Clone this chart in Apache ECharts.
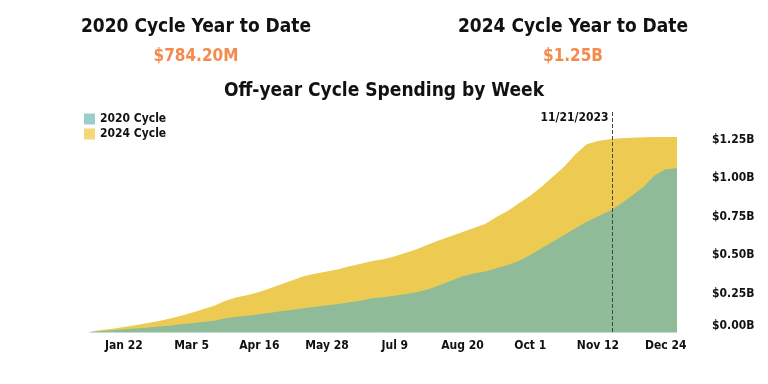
<!DOCTYPE html>
<html><head><meta charset="utf-8">
<script src="https://cdn.jsdelivr.net/npm/echarts@6/dist/echarts.min.js"></script>
<style>html,body{margin:0;padding:0;background:#fff}#c{width:768px;height:384px}</style>
</head><body><div id="c"></div>
<script>
const weeks = ['Jan 1','Jan 8','Jan 15','Jan 22','Jan 29','Feb 5','Feb 12','Feb 19','Feb 26','Mar 5','Mar 12','Mar 19','Mar 26','Apr 2','Apr 9','Apr 16','Apr 23','Apr 30','May 7','May 14','May 21','May 28','Jun 4','Jun 11','Jun 18','Jun 25','Jul 2','Jul 9','Jul 16','Jul 23','Jul 30','Aug 6','Aug 13','Aug 20','Aug 27','Sep 3','Sep 10','Sep 17','Sep 24','Oct 1','Oct 8','Oct 15','Oct 22','Oct 29','Nov 5','Nov 12','Nov 19','Nov 26','Dec 3','Dec 10','Dec 17','Dec 24','Dec 31'];
const tickLabels = ['Jan 22','Mar 5','Apr 16','May 28','Jul 9','Aug 20','Oct 1','Nov 12','Dec 24'];
// cumulative spending, billions of dollars
const cycle2020 = [0,0.006,0.011,0.018,0.022,0.028,0.035,0.041,0.05,0.057,0.065,0.074,0.089,0.1,0.106,0.115,0.126,0.137,0.145,0.156,0.165,0.174,0.182,0.193,0.204,0.219,0.226,0.236,0.247,0.26,0.278,0.306,0.334,0.363,0.38,0.393,0.415,0.436,0.462,0.501,0.545,0.588,0.632,0.675,0.718,0.751,0.788,0.833,0.887,0.942,1.018,1.059,1.066];
const cycle2024 = [0,0.013,0.021,0.033,0.044,0.057,0.07,0.087,0.104,0.126,0.148,0.171,0.204,0.226,0.241,0.26,0.286,0.312,0.339,0.365,0.38,0.393,0.408,0.428,0.445,0.462,0.473,0.493,0.516,0.54,0.571,0.599,0.625,0.651,0.677,0.703,0.749,0.788,0.838,0.887,0.946,1.011,1.076,1.157,1.222,1.243,1.254,1.261,1.265,1.268,1.27,1.27,1.27];
const yTicks = [0, 0.25, 0.5, 0.75, 1.0, 1.25];
const headlines = [
  {title: '2020 Cycle Year to Date', value: '$784.20M'},
  {title: '2024 Cycle Year to Date', value: '$1.25B'}
];
const chartTitle = 'Off-year Cycle Spending by Week';
const startDate = '2023-01-01';
const markerDate = '2023-11-21';
const markerText = '11/21/2023';

const FONT = '"DejaVu Sans Condensed","DejaVu Sans",sans-serif';
const markerWeek = (Date.parse(markerDate) - Date.parse(startDate)) / (7 * 86400000);
const yMax = 1.445;

const chart = echarts.init(document.getElementById('c'));
chart.setOption({
  animation: false,
  textStyle: {fontFamily: FONT},
  graphic: [
    {type:'text', x:196, y:27, style:{text:headlines[0].title, font:'bold 19px ' + FONT, fill:'#111', textAlign:'center', textVerticalAlign:'middle'}},
    {type:'text', x:196, y:57, style:{text:headlines[0].value, font:'bold 17px ' + FONT, fill:'#f58a4c', textAlign:'center', textVerticalAlign:'middle'}},
    {type:'text', x:573, y:27, style:{text:headlines[1].title, font:'bold 19px ' + FONT, fill:'#111', textAlign:'center', textVerticalAlign:'middle'}},
    {type:'text', x:573, y:57, style:{text:headlines[1].value, font:'bold 17px ' + FONT, fill:'#f58a4c', textAlign:'center', textVerticalAlign:'middle'}},
    {type:'text', x:384, y:91, style:{text:chartTitle, font:'bold 19px ' + FONT, fill:'#111', textAlign:'center', textVerticalAlign:'middle'}}
  ],
  legend: {
    data: ['2020 Cycle', '2024 Cycle'],
    orient: 'vertical', left: 79, top: 108, itemWidth: 11, itemHeight: 11, itemGap: 3, icon: 'rect',
    textStyle: {fontFamily: FONT, fontWeight: 'bold', fontSize: 12, color: '#111'}
  },
  grid: {left: 90, right: 91, top: 110, bottom: 52},
  xAxis: [
    {type: 'category', data: weeks, boundaryGap: false,
     axisLine: {show: true, lineStyle: {color: '#c4ddd0'}}, axisTick: {show: false},
     axisLabel: {interval: (i, v) => tickLabels.includes(v), margin: 8, fontFamily: FONT, fontWeight: 'bold', fontSize: 12, color: '#111'},
     splitLine: {show: false}},
    {type: 'value', min: 0, max: weeks.length - 1, show: false}
  ],
  yAxis: {
    type: 'value', position: 'right', min: 0, max: yMax, interval: 0.25,
    axisLine: {show: false}, axisTick: {show: false}, splitLine: {show: false},
    axisLabel: {margin: 35, showMaxLabel: false, fontFamily: FONT, fontWeight: 'bold', fontSize: 12, color: '#111',
      formatter: v => yTicks.includes(v) ? ('$' + v.toFixed(2) + 'B' + (v === 0 ? '\n ' : '')) : ''}
  },
  series: [
    {name: '2024 Cycle', type: 'line', data: cycle2024, symbol: 'none', lineStyle: {width: 0},
     itemStyle: {color: '#f5d778'}, areaStyle: {color: '#edcb53', opacity: 1}, z: 1},
    {name: '2020 Cycle', type: 'line', data: cycle2020, symbol: 'none', lineStyle: {width: 0},
     itemStyle: {color: '#9dcec9'}, areaStyle: {color: '#8fbb99', opacity: 1}, z: 2},
    {name: 'marker', type: 'line', xAxisIndex: 1, data: [[markerWeek, 0]], symbol: 'none', lineStyle: {width: 0}, z: 5,
     markLine: {silent: true, symbol: 'none', label: {show: false},
       lineStyle: {type: 'dashed', color: '#444', width: 1},
       data: [[{coord: [markerWeek, 0]}, {coord: [markerWeek, yMax]}]]},
     markPoint: {silent: true, symbol: 'circle', symbolSize: 0,
       label: {show: true, position: 'left', distance: 4, formatter: markerText, fontFamily: FONT, fontWeight: 'bold', fontSize: 12, color: '#111'},
       data: [{coord: [markerWeek, 1.393]}]}}
  ]
});
</script>
</body></html>
